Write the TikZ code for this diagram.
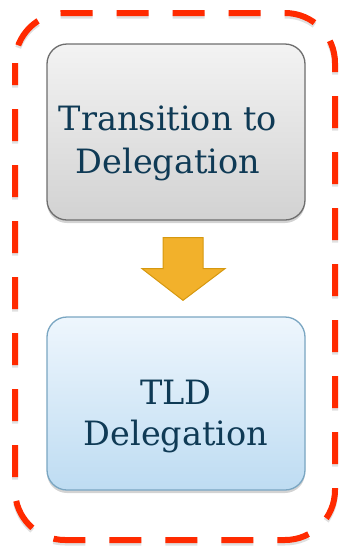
\documentclass[tikz,border=0pt]{standalone}
\usepackage{fontspec}
\setmainfont{DejaVu Serif}
\usetikzlibrary{shadows,calc}
\definecolor{txtblue}{HTML}{0F3A55}
\definecolor{dashred}{HTML}{FF2A00}
\definecolor{arrfill}{HTML}{F2B12B}
\definecolor{arrline}{HTML}{D6980F}
\tikzset{
  basebox/.style={rectangle, rounded corners=20pt, minimum width=258pt, line width=1.3pt,
    drop shadow={opacity=0.35, shadow xshift=0pt, shadow yshift=-3pt}},
  greybox/.style={basebox, draw={rgb,255:red,110;green,110;blue,110}, minimum height=176pt,
    top color={rgb,255:red,243;green,243;blue,243}, bottom color={rgb,255:red,210;green,210;blue,210}},
  bluebox/.style={basebox, draw={rgb,255:red,122;green,166;blue,194}, minimum height=173pt,
    top color={rgb,255:red,238;green,246;blue,253}, bottom color={rgb,255:red,190;green,220;blue,242}},
  boxtext/.style={anchor=base, inner sep=0pt, text=txtblue, font=\rmfamily\fontsize{33.5}{43}\selectfont},
  frame/.style={draw=dashred, line width=6pt, dash pattern=on 32pt off 24pt, dash phase=10pt, rounded corners=50pt},
  downarrow/.style={fill=arrfill, draw=arrline, line width=1pt, line join=miter}
}
\begin{document}
\begin{tikzpicture}[x=1pt,y=-1pt]
\useasboundingbox (0,0) rectangle (339,547);
% frame shadow
\draw[frame, draw=black, opacity=0.12] (15,15.5) rectangle (335,542.5);
\draw[frame] (15,13) rectangle (335,540);
% boxes
\node[greybox] (top) at (176,132) {};
\node[bluebox] (bot) at (176,403.5) {};
% texts
\node[boxtext] (t1) at (168,130) {Transition to};
\node[boxtext] (t2) at (168,173) {Delegation};
\node[boxtext] (b1) at (176,404) {TLD};
\node[boxtext] (b2) at (176,445) {Delegation};
% arrow
\draw[downarrow] ($(top.south)+(-13,17)$) -- ($(top.south)+(27,17)$) -- ($(top.south)+(27,48)$)
  -- ($(top.south)+(49,48)$) -- ($(bot.north)+(7,-16)$) -- ($(top.south)+(-34,48)$)
  -- ($(top.south)+(-13,48)$) -- cycle;
\end{tikzpicture}
\end{document}
